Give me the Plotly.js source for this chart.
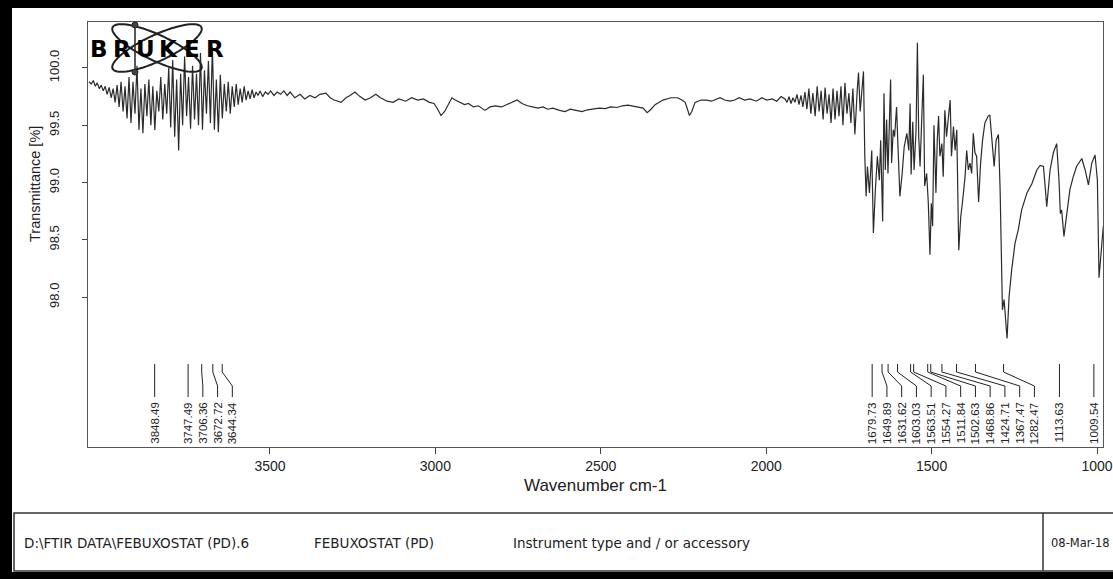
<!DOCTYPE html>
<html><head><meta charset="utf-8">
<script src="https://cdn.plot.ly/plotly-3.0.1.min.js"></script>
<style>html,body{margin:0;padding:0;background:#fff;}#chart{width:1113px;height:579px;}</style>
</head><body><div id="chart"></div>
<script>
// ---- data ----
const wavenumber = [
4047,4040,4034,4028,4022,4016,4010,4004,3998,3992,3986,3980,3974,3968,3962,3956,3950,3944,3938,3932,
3926,3920,3914,3908,3902,3896,3890,3884,3878,3872,3866,3860,3854,3848,3842,3836,3830,3824,3818,3812,
3806,3800,3794,3788,3782,3776,3770,3764,3758,3752,3746,3740,3734,3728,3722,3716,3710,3704,3698,3692,
3686,3680,3674,3668,3662,3656,3650,3644,3638,3632,3626,3620,3614,3608,3602,3596,3590,3584,3578,3572,
3566,3560,3554,3548,3542,3536,3530,3522,3514,3506,3498,3488,3478,3468,3458,3448,
3439,3425,3409,3395,3379,3364,3349,3331,3318,3306,3285,3270,3258,3243,3228,3212,3196,3180,3166,3146,
3128,3110,3090,3072,3053,3036,3018,3004,2993,2983,2972,2962,2950,2940,2926,2912,2900,2885,2870,2850,
2835,2818,2800,2785,2768,2753,2738,2722,2706,2690,2675,2660,2645,2625,2608,2592,2575,2557,2540,2520,
2505,2487,2470,2451,2435,2418,2400,2388,2372,2360,2348,2336,2312,2288,2268,2255,2245,2238,2232,2225,
2215,2197,2180,2165,2150,2140,2125,2109,2095,2082,2065,2049,2030,2013,1998,1982,1968,1955,
1943,1937,1931,1925,1919,1913,1907,1901,1895,1889,1883,1877,1871,1865,1859,1852,1846,1840,1834,1828,
1822,1816,1810,1804,1798,1792,1786,1780,1774,1768,1762,1756,1750,1744,1738,1732,1725,1721,1716,1712,
1706,1702,1698,1694,1688,1681,1676,1670,1664,1658,1654,1648,1644,1640,1636,1632,1628,1624,1621,1616,
1612,1606,1602,1596,1589,1583,1575,1569,1565,1562,1557,1553,1547,1543,1539,1535,1531,1525,1521,1515,
1510,1505,1501,1497,1493,1487,1483,1479,1475,1469,1465,1460,1455,1449,1444,1440,1434,1429,1424,1418,
1412,1406,1399,1394,1389,1384,1379,1374,1369,1364,1358,1352,1346,1339,1329,1324,1318,1311,1305,1298,
1293,1290,1286,1281,1276,1272,1266,1258,1248,1238,1228,1212,1197,1182,1172,1162,1157,1152,1142,1132,
1122,1115,1111,1107,1100,1092,1082,1072,1062,1046,1036,1026,1016,1006,999,994,986,981
];
const transmittance = [
99.88,99.86,99.89,99.84,99.87,99.82,99.85,99.80,99.84,99.77,99.83,99.74,99.82,99.70,99.85,99.66,99.88,99.62,99.84,99.56,
99.92,99.52,99.88,99.60,100.02,99.46,99.82,99.43,99.86,99.58,99.90,99.50,99.84,99.46,99.80,99.62,99.92,99.55,99.86,99.60,
100.00,99.48,100.07,99.40,99.90,99.28,99.95,99.50,100.10,99.58,99.92,99.47,100.02,99.55,99.95,99.50,100.13,99.46,99.98,99.60,
100.06,99.52,100.18,99.46,99.90,99.44,99.94,99.56,99.86,99.62,99.88,99.60,99.84,99.66,99.86,99.68,99.82,99.70,99.84,99.72,
99.80,99.73,99.81,99.74,99.79,99.76,99.80,99.75,99.79,99.77,99.80,99.76,99.79,99.77,99.80,99.76,
99.79,99.74,99.77,99.73,99.76,99.74,99.77,99.78,99.74,99.72,99.70,99.74,99.76,99.79,99.75,99.72,99.74,99.77,99.74,99.71,
99.70,99.73,99.71,99.74,99.72,99.73,99.70,99.69,99.64,99.585,99.62,99.68,99.74,99.72,99.70,99.68,99.69,99.66,99.67,99.63,
99.66,99.67,99.66,99.68,99.70,99.72,99.69,99.67,99.66,99.65,99.66,99.64,99.65,99.63,99.62,99.64,99.63,99.62,99.635,99.64,
99.65,99.645,99.66,99.655,99.67,99.675,99.665,99.66,99.65,99.61,99.64,99.68,99.72,99.74,99.74,99.72,99.70,99.64,99.585,99.62,
99.70,99.72,99.72,99.71,99.73,99.74,99.72,99.71,99.72,99.74,99.72,99.73,99.71,99.74,99.72,99.73,99.71,99.75,
99.73,99.70,99.75,99.69,99.74,99.70,99.77,99.68,99.76,99.66,99.79,99.64,99.82,99.60,99.78,99.58,99.84,99.62,99.80,99.55,
99.83,99.60,99.77,99.52,99.82,99.55,99.80,99.58,99.84,99.50,99.87,99.60,99.78,99.52,99.82,99.42,99.80,99.96,99.62,99.75,
99.97,99.23,98.88,99.14,98.91,99.28,98.56,98.94,99.23,99.02,99.37,98.66,99.78,99.11,99.55,99.08,99.58,99.90,99.17,99.46,
99.40,99.66,99.34,98.88,99.08,99.31,99.43,99.28,99.69,99.07,99.53,99.11,99.46,100.22,99.40,99.14,99.46,99.94,98.97,99.08,
98.82,98.37,98.82,98.62,99.50,98.91,99.37,99.58,99.23,99.34,99.05,99.63,99.40,99.55,99.72,99.23,99.49,99.28,99.46,98.41,
98.70,98.85,99.05,99.28,99.11,99.17,99.08,99.43,99.26,99.23,98.83,99.17,99.37,99.52,99.58,99.59,99.37,99.14,99.37,99.42,
98.94,98.30,97.89,97.98,97.77,97.64,98.00,98.24,98.47,98.59,98.76,98.91,98.99,99.11,99.15,99.14,98.97,98.79,99.11,99.26,
99.34,99.02,98.73,98.76,98.53,98.73,98.94,99.05,99.14,99.21,99.11,98.98,99.17,99.24,99.02,98.17,98.44,98.62
];
const peakPositions = [3848.49,3747.49,3706.36,3672.72,3644.34,1679.73,1649.89,1631.62,1603.03,1563.51,1554.27,1511.84,1502.63,1468.86,1424.71,1367.47,1282.47,1113.63,1009.54];
const peakLabels = ['3848.49','3747.49','3706.36','3672.72','3644.34','1679.73','1649.89','1631.62','1603.03','1563.51','1554.27','1511.84','1502.63','1468.86','1424.71','1367.47','1282.47','1113.63','1009.54'];
const xTicks = [3500,3000,2500,2000,1500,1000];
const yTicks = [98.0,98.5,99.0,99.5,100.0];
const footerTexts = ['D:\\FTIR DATA\\FEBUXOSTAT (PD).6','FEBUXOSTAT (PD)','Instrument type and / or accessory','08-Mar-18'];
const logoLetters = ['B','R','U','K','E','R'];

// ---- layout helpers ----
const W=1113, H=579, M={l:88,r:10,t:22,b:132};
const PW=W-M.l-M.r, PH=H-M.t-M.b;
const xRange=[4050,982], yRange=[96.693,100.401];
const X = px => (px-M.l)/PW;
const Y = py => (M.t+PH-py)/PH;
const w2px = w => M.l + (xRange[0]-w)/(xRange[0]-xRange[1])*PW;
const px2w = px => xRange[0] - (px-M.l)/PW*(xRange[0]-xRange[1]);

const shapes=[], annotations=[];

// peak label lines and texts
let prev=-1e9;
peakPositions.forEach((p,i)=>{
  const lp = Math.max(w2px(p), prev+14.75);
  prev = lp;
  const lw = px2w(lp);
  shapes.push({type:'path',xref:'x',yref:'paper',
    path:`M ${p},${Y(364)} L ${p},${Y(372)} L ${lw},${Y(386)} L ${lw},${Y(397)}`,
    line:{color:'#222',width:1}});
  annotations.push({x:lw,xref:'x',y:Y(400),yref:'paper',text:peakLabels[i],textangle:-90,
    showarrow:false,xanchor:'center',yanchor:'top',font:{family:'Liberation Sans, Arial',size:11.5,color:'#222'}});
});

// logo
function ellipsePath(cx,cy,a,b,deg){
  const th=deg*Math.PI/180; let d='';
  for(let k=0;k<=72;k++){const t=k/72*2*Math.PI;
    const px=cx+a*Math.cos(t)*Math.cos(th)-b*Math.sin(t)*Math.sin(th);
    const py=cy+a*Math.cos(t)*Math.sin(th)+b*Math.sin(t)*Math.cos(th);
    d+=(k?' L ':'M ')+X(px).toFixed(5)+','+Y(py).toFixed(5);}
  return d+' Z';
}
shapes.push({type:'path',xref:'paper',yref:'paper',path:ellipsePath(157,48,49,13,25),line:{color:'#222',width:2}});
shapes.push({type:'path',xref:'paper',yref:'paper',path:ellipsePath(157,48,49,13,-25),line:{color:'#222',width:2}});
shapes.push({type:'line',xref:'paper',yref:'paper',x0:X(135),x1:X(135),y0:Y(25),y1:Y(72),line:{color:'#222',width:1.5}});
[25,72].forEach(cy=>shapes.push({type:'circle',xref:'paper',yref:'paper',x0:X(132),x1:X(138),y0:Y(cy+3),y1:Y(cy-3),fillcolor:'#444',line:{color:'#222',width:1}}));
logoLetters.forEach((c,i)=>annotations.push({x:X(99+i*23.2),xref:'paper',y:Y(48.5),yref:'paper',text:'<b>'+c+'</b>',showarrow:false,
  xanchor:'center',yanchor:'middle',font:{family:'DejaVu Sans',size:23,color:'#000'}}));

// axis titles
annotations.push({x:0.5,xref:'paper',y:Y(485),yref:'paper',text:'Wavenumber cm-1',showarrow:false,xanchor:'center',yanchor:'middle',
  font:{family:'Liberation Sans, Arial',size:17,color:'#222'}});
annotations.push({x:X(35),xref:'paper',y:Y(184),yref:'paper',text:'Transmittance [%]',textangle:-90,showarrow:false,xanchor:'center',yanchor:'middle',
  font:{family:'Liberation Sans, Arial',size:14.5,color:'#222'}});

// footer box
shapes.push({type:'rect',xref:'paper',yref:'paper',x0:X(14),x1:X(1125),y0:Y(571),y1:Y(513),line:{color:'#333',width:1.5},fillcolor:'rgba(0,0,0,0)'});
shapes.push({type:'line',xref:'paper',yref:'paper',x0:X(1043),x1:X(1043),y0:Y(571),y1:Y(513),line:{color:'#333',width:1.5}});
const footerX=[22,312,511,1049];
const footerSize=[13.5,13.5,13.5,11.5];
footerTexts.forEach((t,i)=>annotations.push({x:X(footerX[i]),xref:'paper',y:Y(543),yref:'paper',text:t,showarrow:false,xanchor:'left',yanchor:'middle',
  font:{family:'DejaVu Sans',size:footerSize[i],color:'#222'}}));

// black scan frame
shapes.push({type:'rect',xref:'paper',yref:'paper',x0:X(0),x1:X(12),y0:Y(579),y1:Y(0),fillcolor:'#000',line:{width:0}});
shapes.push({type:'rect',xref:'paper',yref:'paper',x0:X(0),x1:X(1113),y0:Y(8),y1:Y(0),fillcolor:'#000',line:{width:0}});
shapes.push({type:'rect',xref:'paper',yref:'paper',x0:X(0),x1:X(1113),y0:Y(579),y1:Y(572),fillcolor:'#000',line:{width:0}});

const trace={x:wavenumber,y:transmittance,type:'scatter',mode:'lines',line:{color:'#2b2b2b',width:1.2},hoverinfo:'skip'};

const layout={
  width:W,height:H,margin:M,paper_bgcolor:'#fff',plot_bgcolor:'#fff',showlegend:false,
  font:{family:'Liberation Sans, Arial',color:'#222'},
  xaxis:{range:xRange,tickvals:xTicks,ticktext:xTicks.map(String),ticks:'outside',ticklen:6,tickcolor:'#444',
    showline:true,linecolor:'#555',linewidth:1,mirror:true,showgrid:false,zeroline:false,
    tickfont:{family:'Liberation Sans, Arial',size:14,color:'#222'}},
  yaxis:{range:yRange,tickvals:yTicks,tickformat:'.1f',tickangle:-90,ticks:'outside',ticklen:5,tickcolor:'#444',ticklabelstandoff:18,
    showline:true,linecolor:'#555',linewidth:1,mirror:true,showgrid:false,zeroline:false,
    tickfont:{family:'Liberation Sans, Arial',size:13,color:'#222'}},
  shapes:shapes,annotations:annotations
};
Plotly.newPlot('chart',[trace],layout,{displayModeBar:false,staticPlot:true});
</script></body></html>
